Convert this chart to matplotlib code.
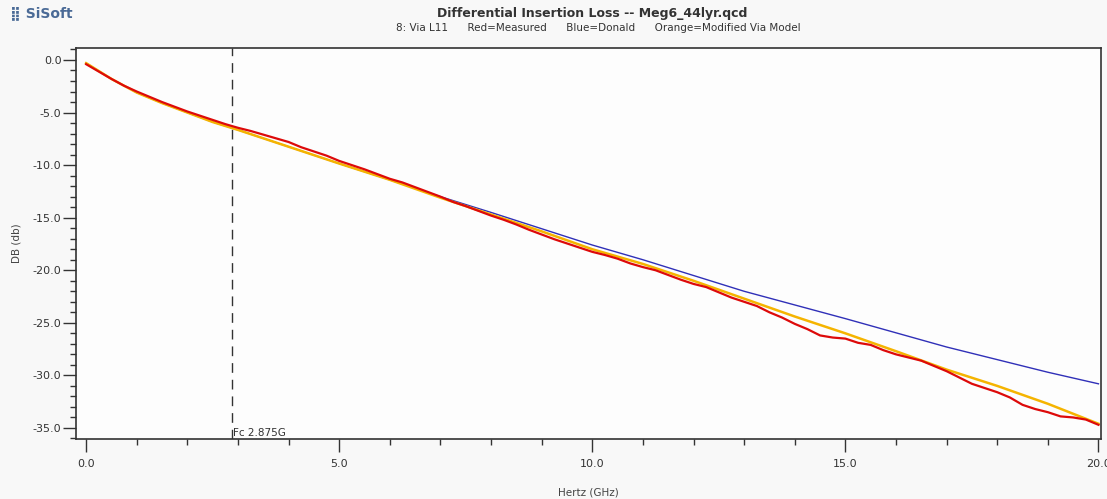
import numpy as np
import matplotlib
matplotlib.use("Agg")
import matplotlib.pyplot as plt
from matplotlib.ticker import MultipleLocator

# measured (red), 0.25 GHz steps
freq_meas = np.arange(0, 20.01, 0.25)
db_meas = [-0.4, -1.1, -1.8, -2.45, -3.0, -3.5, -4.0, -4.45, -4.9, -5.3,
           -5.7, -6.1, -6.45, -6.75, -7.1, -7.45, -7.8, -8.3, -8.7, -9.1,
           -9.6, -10.0, -10.4, -10.85, -11.3, -11.65, -12.1, -12.55, -13.0, -13.5,
           -13.9, -14.35, -14.8, -15.2, -15.65, -16.15, -16.6, -17.05, -17.45, -17.85,
           -18.25, -18.55, -18.9, -19.35, -19.7, -20.0, -20.45, -20.9, -21.3, -21.6,
           -22.1, -22.6, -23.0, -23.4, -24.0, -24.5, -25.1, -25.6, -26.2, -26.4,
           -26.5, -26.9, -27.1, -27.6, -28.0, -28.3, -28.6, -29.1, -29.6, -30.2,
           -30.8, -31.2, -31.6, -32.1, -32.8, -33.2, -33.5, -33.9, -34.0, -34.2,
           -34.7]

# modified via model (orange)
freq_model = [0, 0.5, 1, 1.5, 2, 2.5, 3, 4, 5, 6, 7, 8, 9, 10, 11, 12, 13, 14,
              15, 16, 17, 18, 19, 20]
db_model = [-0.3, -1.8, -3.1, -4.1, -5.0, -5.9, -6.65, -8.25, -9.85, -11.4,
            -13.1, -14.7, -16.3, -18.0, -19.4, -21.0, -22.7, -24.4, -26.0,
            -27.7, -29.45, -31.0, -32.7, -34.6]

# donald (blue)
freq_donald = [0, 0.5, 1, 1.5, 2, 2.5, 3, 4, 5, 6, 7, 8, 9, 10, 11, 12, 13, 14,
               15, 16, 17, 18, 19, 20]
db_donald = [-0.3, -1.8, -3.1, -4.1, -5.0, -5.9, -6.65, -8.25, -9.85, -11.4,
             -13.0, -14.5, -16.05, -17.6, -19.0, -20.5, -22.0, -23.3, -24.6,
             -25.95, -27.3, -28.5, -29.7, -30.8]

fc = 2.875

fig = plt.figure(figsize=(11.07, 4.99), dpi=100)
fig.patch.set_facecolor("#f8f8f8")
ax = fig.add_axes([76 / 1107, 60 / 499, 1025 / 1107, 391 / 499])
ax.set_facecolor("#fdfdfd")

ax.plot(freq_donald, db_donald, color="#3030b8", lw=1.0, zorder=3)
ax.plot(freq_model, db_model, color="#f5b400", lw=1.8, zorder=4)
ax.plot(freq_meas, db_meas, color="#dd0a0a", lw=1.6, zorder=5)

ax.axvline(fc, color="#333333", lw=1.0, ls=(0, (7, 5)), zorder=2)
ax.text(fc + 0.02, -36.0, "Fc 2.875G", fontsize=7.5, color="#333333",
        ha="left", va="bottom")

ax.set_xlim(-0.2, 20.05)
ax.set_ylim(-36.05, 1.14)
ax.xaxis.set_major_locator(MultipleLocator(5))
ax.xaxis.set_minor_locator(MultipleLocator(1))
ax.yaxis.set_major_locator(MultipleLocator(5))
ax.yaxis.set_minor_locator(MultipleLocator(1))
ax.xaxis.set_major_formatter(lambda v, p: "%.1f" % v)
ax.yaxis.set_major_formatter(lambda v, p: "%.1f" % v)

ax.tick_params(axis="y", which="major", length=9.5, width=1.0, pad=1,
               labelsize=8, colors="#333333")
ax.tick_params(axis="y", which="minor", length=4, width=1.0, color="#333333")
ax.tick_params(axis="x", which="major", length=9.5, width=1.0, pad=5,
               labelsize=8, colors="#333333")
ax.tick_params(axis="x", which="minor", length=4.5, width=1.0, color="#333333")
for s in ax.spines.values():
    s.set_color("#333333")
    s.set_linewidth(1.2)

ax.set_ylabel("DB (db)", fontsize=7.5, color="#444444", labelpad=8)
ax.set_xlabel("Hertz (GHz)", fontsize=7.5, color="#444444", labelpad=13)

fig.text(592 / 1107, 1 - 13 / 499, "Differential Insertion Loss -- Meg6_44lyr.qcd",
         ha="center", va="center", fontsize=9, fontweight="bold", color="#333333")
fig.text(598 / 1107, 1 - 28 / 499,
         "8: Via L11      Red=Measured      Blue=Donald      Orange=Modified Via Model",
         ha="center", va="center", fontsize=7.5, color="#333333")
fig.text(10 / 1107, 1 - 13 / 499, "\u28ff SiSoft", ha="left", va="center",
         fontsize=10, fontweight="bold", color="#4a6a96")

fig.savefig("out.png", dpi=100, facecolor=fig.get_facecolor())
